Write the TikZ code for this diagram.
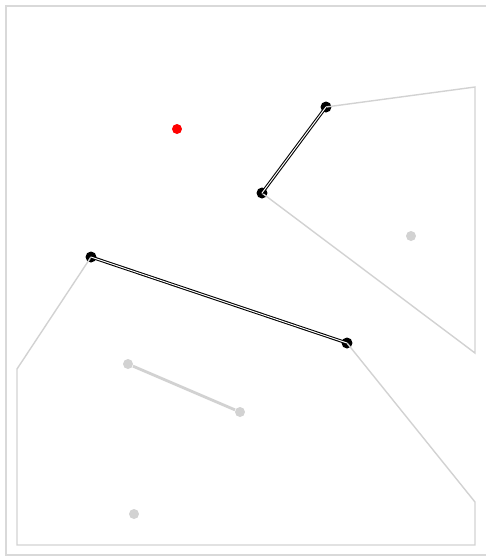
\documentclass[tikz,border=0pt]{standalone}
\usepackage{tikz}

\begin{document}
\begin{tikzpicture}[x=0.02cm,y=-0.02cm,
		dot/.style={circle, inner sep=0pt, minimum size=0.22cm},
		edge/.style={draw=gray!35, line width=0.8pt},
		cut/.style={draw=black, line width=0.6pt, double=white, double distance=0.55pt}]
		\useasboundingbox (0,0) rectangle (485,556);
		\draw[gray!30, line width=1.3pt] (490,6) -- (6,6) -- (6,555) -- (490,555);
		% points
		\node[dot, fill=red, minimum size=0.2cm] (r) at (177,129) {};
		\foreach \name/\x/\y in {g1/411/236, g2/128/364, g3/240/412, g4/134/514}
			\node[dot, fill=gray!35, minimum size=0.2cm] (\name) at (\x,\y) {};
		\foreach \name/\x/\y in {a/326/107, b/262/193, c/91/257, d/347/343}
			\node[dot, fill=black] (\name) at (\x,\y) {};
		\coordinate (p1) at (475,87);
		\coordinate (p2) at (475,353);
		\coordinate (q1) at (17,369);
		\coordinate (q2) at (17,545);
		\coordinate (q3) at (475,545);
		\coordinate (q4) at (475,502);
		% regions
		\draw[edge] (a.center) -- (p1) -- (p2) -- (b.center);
		\draw[edge] (c.center) -- (q1) -- (q2) -- (q3) -- (q4) -- (d.center);
		\draw[gray!35, line width=1.6pt] (g2) -- (g3);
		\draw[cut] (a.center) -- (b.center);
		\draw[cut] (c.center) -- (d.center);
	\end{tikzpicture}
\end{document}
